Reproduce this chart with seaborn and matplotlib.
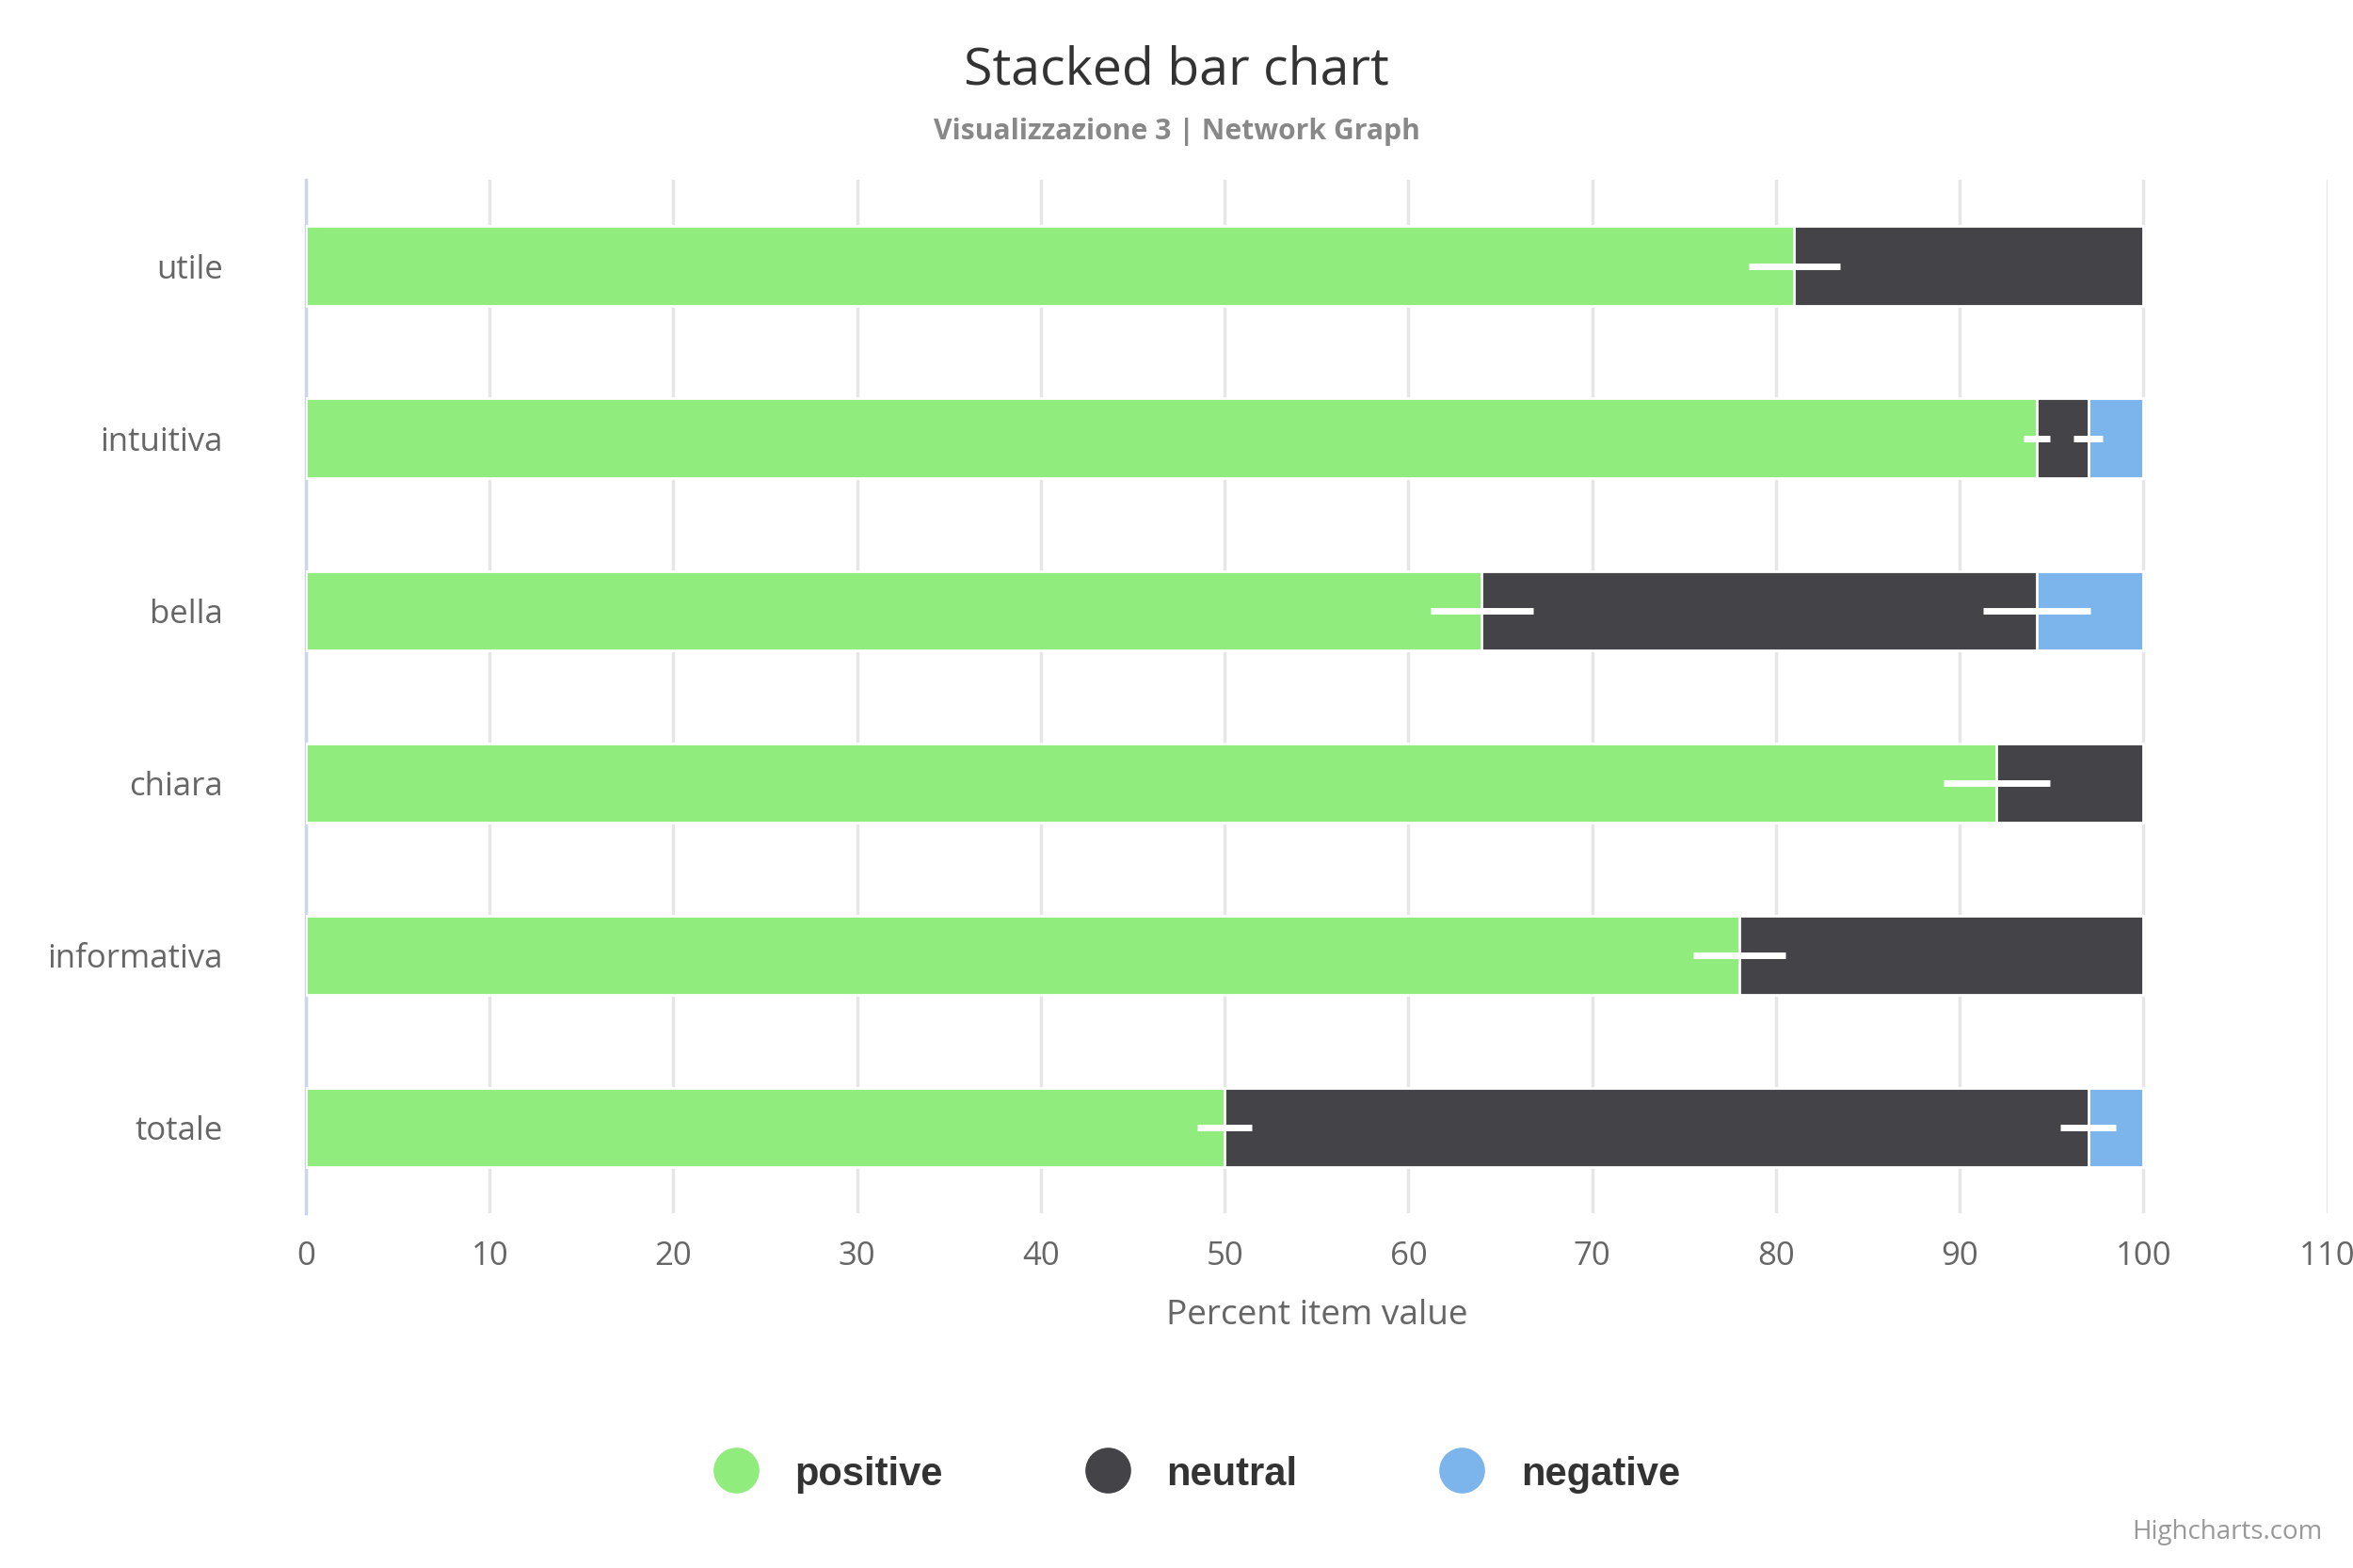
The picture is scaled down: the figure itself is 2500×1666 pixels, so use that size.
import numpy as np
import pandas as pd
import seaborn as sns
import matplotlib.pyplot as plt
from matplotlib.lines import Line2D

categories = ['utile', 'intuitiva', 'bella', 'chiara', 'informativa', 'totale']
positive = [81, 94.2, 64, 92, 78, 50]
neutral = [19, 2.8, 30.2, 8, 22, 47]
negative = [0, 3, 5.8, 0, 0, 3]
series = ['positive', 'neutral', 'negative']
colors = ['#90ed7d', '#434348', '#7cb5ec']

# white error marks at segment ends (center, half width)
err_pos = [2.5, 0.7, 2.8, 2.9, 2.5, 1.5]
err_neu = [0, 0.8, 2.9, 0, 0, 1.5]

sns.set_style('white')
plt.rcParams['font.family'] = ['Open Sans', 'DejaVu Sans']

df = pd.DataFrame({'cat': categories, 'positive': positive,
                   'neutral': neutral, 'negative': negative})
df['c1'] = df['positive']
df['c2'] = df['positive'] + df['neutral']
df['c3'] = df['c2'] + df['negative']

fig = plt.figure(figsize=(15, 10), dpi=166.67)
ax = fig.add_axes([0.130, 0.226, 0.859, 0.659])

for col, color in zip(['c3', 'c2', 'c1'], colors[::-1]):
    sns.barplot(data=df, y='cat', x=col, orient='h', color=color, width=0.46,
                edgecolor='white', linewidth=1.2, ax=ax, saturation=1, zorder=3)

yy = np.arange(len(categories))
for c, e in [(df['c1'], err_pos), (df['c2'], err_neu)]:
    e = np.array(e)
    m = e > 0
    ax.errorbar(np.array(c)[m], yy[m], xerr=e[m], fmt='none', ecolor='white',
                elinewidth=3, capsize=0, zorder=5)

ax.set_xlim(0, 110)
ax.set_ylim(len(categories) - 0.5, -0.5)
ax.set_xticks(range(0, 111, 10))
ax.grid(axis='x', color='#e6e6e6', linewidth=1.5, zorder=0)
ax.set_axisbelow(True)
for s in ['top', 'right', 'bottom']:
    ax.spines[s].set_visible(False)
ax.spines['left'].set_color('#ccd6eb')
ax.spines['left'].set_linewidth(1.5)
ax.set_yticks(np.arange(-0.5, len(categories), 1), minor=True)
ax.tick_params(axis='y', which='minor', length=14, color='#ccd6eb', width=1.5)
ax.tick_params(axis='y', which='major', length=0, pad=38, labelsize=15, labelcolor='#666666')
ax.tick_params(axis='x', length=0, pad=12, labelsize=15, labelcolor='#666666')
ax.set_ylabel('')
ax.set_xlabel('Percent item value', fontsize=16, color='#666666', labelpad=12)

fig.text(0.5, 0.955, 'Stacked bar chart', ha='center', va='center',
         fontsize=24, color='#333333')
fig.text(0.5, 0.916, 'Visualizzazione 3 | Network Graph', ha='center', va='center',
         fontsize=13, color='#888888', fontweight='bold')

handles = [Line2D([], [], marker='o', linestyle='', markersize=20, color=c) for c in colors]
leg = fig.legend(handles, series, loc='center', bbox_to_anchor=(0.505, 0.06), ncol=3,
                 frameon=False, handletextpad=0.5, columnspacing=3.2,
                 prop={'family': 'Liberation Sans', 'weight': 'bold', 'size': 18})
for t in leg.get_texts():
    t.set_color('#333333')

fig.text(0.987, 0.015, 'Highcharts.com', ha='right', va='bottom',
         fontsize=12, color='#999999')

fig.savefig('out.png', dpi=166.67)
